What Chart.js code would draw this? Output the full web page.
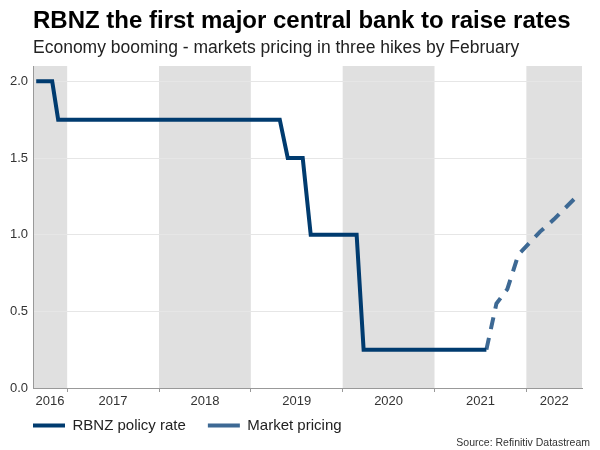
<!DOCTYPE html>
<html>
<head>
<meta charset="utf-8">
<script src="https://cdn.jsdelivr.net/npm/chart.js"></script>
<style>
body{margin:0;background:#fff;font-family:"Liberation Sans",Arial,sans-serif;}
#wrap{position:relative;width:600px;height:450px;}
#title{position:absolute;left:33px;top:8px;font-size:24px;font-weight:bold;line-height:1;color:#000;white-space:nowrap;}
#sub{position:absolute;left:33px;top:39px;font-size:17.5px;line-height:1;color:#222;white-space:nowrap;}
#source{position:absolute;right:10px;top:437px;font-size:10.5px;line-height:1;color:#333;}
canvas{position:absolute;left:0;top:0;}
</style>
</head>
<body>
<div id="wrap">
  <canvas id="chart" width="600" height="450"></canvas>
  <div id="title">RBNZ the first major central bank to raise rates</div>
  <div id="sub">Economy booming - markets pricing in three hikes by February</div>
  <div id="source">Source: Refinitiv Datastream</div>
</div>
<script>
// valeurs (dates en années décimales)
const policyDates = [2016.663, 2016.837, 2016.902, 2019.315, 2019.402, 2019.565, 2019.652, 2020.152, 2020.228, 2021.565];
const policyRates = [2.0, 2.0, 1.75, 1.75, 1.5, 1.5, 1.0, 1.0, 0.25, 0.25];
const marketDates = [2021.565, 2021.674, 2021.793, 2021.913, 2022.15, 2022.30, 2022.55];
const marketRates = [0.25, 0.55, 0.645, 0.87, 1.02, 1.10, 1.25];

const yearLabels = ['2016', '2017', '2018', '2019', '2020', '2021', '2022'];
const shadedYears = [2016, 2018, 2020, 2022];
const yTicks = [0, 0.5, 1.0, 1.5, 2.0];
const xMin = 2016.628, xMax = 2022.606;

// ticks : limites d'année (petits traits) + milieux visibles (libellés)
const boundaries = [];
const labelPos = {};
yearLabels.forEach(y => {
    const yr = +y;
    if (yr > xMin && yr < xMax) boundaries.push(yr);
    const a = Math.max(yr, xMin), b = Math.min(yr + 1, xMax);
    labelPos[((a + b) / 2).toFixed(4)] = y;
});

const bands = {
    id: 'bands',
    beforeDraw(chart) {
        const {ctx, chartArea: {top, bottom, left, right}, scales: {x}} = chart;
        ctx.save();
        ctx.fillStyle = '#e0e0e0';
        shadedYears.forEach(yr => {
            const x0 = Math.max(left, x.getPixelForValue(yr));
            const x1 = Math.min(right, x.getPixelForValue(yr + 1));
            if (x1 > x0) ctx.fillRect(x0, top, x1 - x0, bottom - top);
        });
        ctx.restore();
    }
};

const font = {family: '"Liberation Sans", Arial, sans-serif', size: 13};

new Chart(document.getElementById('chart'), {
    type: 'line',
    data: {
        datasets: [{
            label: 'RBNZ policy rate',
            data: policyDates.map((d, i) => ({x: d, y: policyRates[i]})),
            borderColor: '#003b6f',
            backgroundColor: '#003b6f',
            borderWidth: 4,
            borderJoinStyle: 'miter',
            pointRadius: 0,
            pointStyle: 'line',
            tension: 0,
            fill: false
        }, {
            label: 'Market pricing',
            data: marketDates.map((d, i) => ({x: d, y: marketRates[i]})),
            borderColor: '#3d6994',
            backgroundColor: '#3d6994',
            borderWidth: 4,
            borderDash: [12, 9],
            borderJoinStyle: 'miter',
            pointRadius: 0,
            pointStyle: 'line',
            tension: 0,
            fill: false
        }]
    },
    options: {
        responsive: false,
        animation: false,
        layout: {padding: {top: 66, left: 11, right: 18, bottom: 7}},
        plugins: {
            legend: {
                position: 'bottom',
                align: 'start',
                labels: {
                    usePointStyle: true,
                    pointStyleWidth: 32,
                    padding: 22,
                    color: '#222',
                    font: {family: font.family, size: 15}
                }
            },
            tooltip: {enabled: false}
        },
        scales: {
            x: {
                type: 'linear',
                min: xMin,
                max: xMax,
                afterBuildTicks: s => {
                    s.ticks = boundaries.concat(Object.keys(labelPos).map(Number)).map(v => ({value: v}));
                },
                // axe plus bas que ses libellés : on enlève le clip des libellés
                afterFit: s => { s.height = 8; s._computeLabelArea = () => null; },
                ticks: {
                    autoSkip: false,
                    maxRotation: 0,
                    padding: 2,
                    color: '#333',
                    font: font,
                    callback: v => labelPos[v.toFixed(4)] || ''
                },
                grid: {
                    drawOnChartArea: false,
                    tickLength: 4,
                    tickColor: c => (c.tick && boundaries.includes(c.tick.value)) ? '#999' : 'rgba(0,0,0,0)'
                },
                border: {color: '#999'}
            },
            y: {
                min: 0,
                max: 2.1,
                afterBuildTicks: s => { s.ticks = yTicks.map(v => ({value: v})); },
                afterFit: s => { s.width = 22; s._computeLabelArea = () => null; },
                ticks: {
                    padding: 5,
                    color: '#333',
                    font: font,
                    callback: v => v.toFixed(1)
                },
                grid: {color: '#e6e6e6', drawTicks: false},
                border: {color: '#999'}
            }
        }
    },
    plugins: [bands]
});
</script>
</body>
</html>
